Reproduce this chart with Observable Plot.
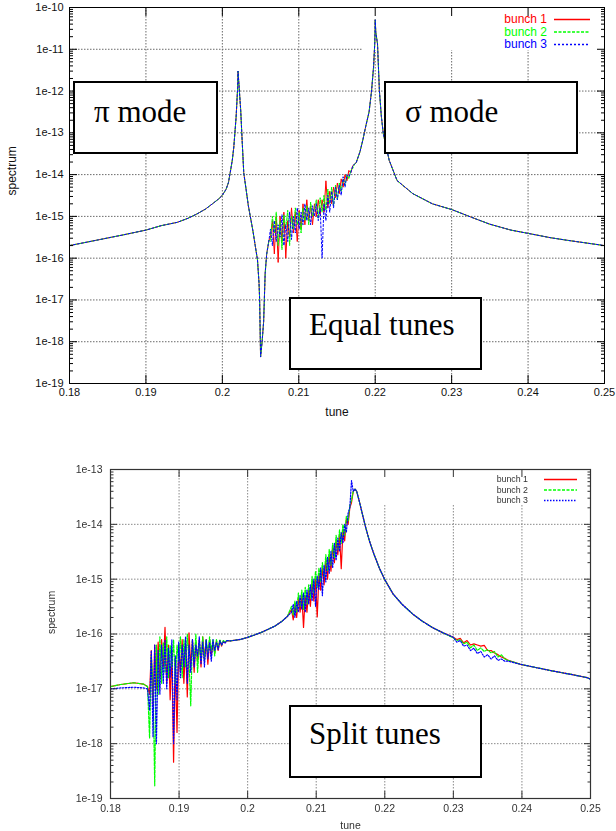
<!DOCTYPE html>
<html>
<head>
<meta charset="utf-8">
<script src="https://cdn.jsdelivr.net/npm/d3@7"></script>
<script src="https://cdn.jsdelivr.net/npm/@observablehq/plot@0.6"></script>
<style>
  html, body { margin: 0; padding: 0; background: #fff; }
  body { width: 616px; height: 831px; position: relative; overflow: hidden; font-family: "Liberation Sans", Arial, sans-serif; }
  #top, #bottom { position: absolute; left: 0; }
  #top { top: 0; }
  #bottom { top: 420px; }
  #bottom svg { filter: blur(0.45px); }
  .note { position: absolute; box-sizing: border-box; border: 2px solid #000; background: #fff;
          font-family: "Liberation Serif", "Times New Roman", serif; font-size: 31px; line-height: 1; color: #000; white-space: nowrap; }
  .note span { position: absolute; }
</style>
</head>
<body>
<div id="top"></div>
<div id="bottom"></div>
<div class="note" style="left:73px;top:81px;width:145px;height:73px"><span style="left:19px;top:13px">π mode</span></div>
<div class="note" style="left:384px;top:81px;width:194px;height:73px"><span style="left:19px;top:13px">σ mode</span></div>
<div class="note" style="left:289px;top:297px;width:193px;height:73px"><span style="left:18px;top:10px">Equal tunes</span></div>
<div class="note" style="left:289px;top:705px;width:193px;height:73px"><span style="left:18px;top:11px">Split tunes</span></div>
<script>
// ---------------- shared categories / ticks ----------------
const bunches = ["bunch 1", "bunch 2", "bunch 3"];
const bunchColors = ["#ff0000", "#00ff00", "#0000ff"];
const xTicks = [0.18, 0.19, 0.2, 0.21, 0.22, 0.23, 0.24, 0.25];
const xTickLabels = ["0.18", "0.19", "0.2", "0.21", "0.22", "0.23", "0.24", "0.25"];
const yTicksTop = [1e-19, 1e-18, 1e-17, 1e-16, 1e-15, 1e-14, 1e-13, 1e-12, 1e-11, 1e-10];
const yTickLabelsTop = ["1e-19", "1e-18", "1e-17", "1e-16", "1e-15", "1e-14", "1e-13", "1e-12", "1e-11", "1e-10"];
const yTicksBottom = [1e-19, 1e-18, 1e-17, 1e-16, 1e-15, 1e-14, 1e-13];
const yTickLabelsBottom = ["1e-19", "1e-18", "1e-17", "1e-16", "1e-15", "1e-14", "1e-13"];

// ---------------- top panel (equal tunes) ----------------
const topLeftTune = [0.180, 0.1838, 0.187, 0.190, 0.192, 0.1941, 0.1955, 0.1967, 0.1978, 0.1987, 0.1995, 0.2000, 0.2005, 0.2008, 0.2010, 0.2013, 0.2015, 0.2018, 0.2020, 0.20205, 0.2022, 0.2024, 0.2026, 0.2028, 0.2031, 0.2034, 0.2037, 0.2040, 0.2043, 0.2046, 0.2048, 0.20488, 0.2050, 0.2052, 0.2054, 0.2056, 0.2058, 0.2061];
const topLeftValue = [2.0e-16, 2.75e-16, 3.6e-16, 4.7e-16, 6.0e-16, 7.2e-16, 9.0e-16, 1.15e-15, 1.5e-15, 2.0e-15, 2.6e-15, 3.2e-15, 4.5e-15, 6.5e-15, 1.05e-14, 2.2e-14, 4.6e-14, 2.4e-13, 1.2e-12, 3.0e-12, 1.2e-12, 3.5e-13, 6.0e-14, 1.1e-14, 4.5e-15, 1.8e-15, 9.0e-16, 4.5e-16, 2.0e-16, 9.0e-17, 2.5e-17, 1.0e-17, 4.3e-19, 1.0e-18, 3.0e-18, 4.3e-17, 1.25e-16, 2.7e-16];
const topNoiseStart = 0.2063, topNoiseStep = 0.00025;
const topNoise1 = [3.2e-16, 7.9e-16, 1.26e-16, 1.0e-15, 7.9e-17, 1.0e-15, 2.5e-16, 1.26e-15, 1.0e-16, 7.9e-16, 3.2e-16, 1.6e-15, 4.0e-16, 1.26e-15, 2.5e-16, 1.4e-15, 5.0e-16, 2.0e-15, 6.3e-16, 2.5e-15, 7.9e-16, 1.8e-15, 6.3e-16, 2.0e-15, 1.0e-15, 2.5e-15, 1.1e-15, 2.5e-15, 1.26e-15, 7.1e-15, 1.6e-15, 4.0e-15, 2.0e-15, 5.0e-15, 2.8e-15, 6.3e-15, 3.5e-15, 7.9e-15, 5.0e-15, 1.0e-14, 7.1e-15, 1.26e-14, 1.1e-14, 1.6e-14, 1.8e-14];
const topNoise2 = [2.5e-16, 1.0e-15, 4.0e-16, 1.26e-15, 2.0e-16, 7.9e-16, 1.6e-16, 1.1e-15, 5.0e-16, 1.4e-15, 2.0e-16, 1.0e-15, 5.0e-16, 1.6e-15, 6.3e-16, 1.26e-15, 4.0e-16, 1.6e-15, 7.9e-16, 1.8e-15, 6.3e-16, 2.2e-15, 1.0e-15, 1.6e-15, 2.5e-15, 8.9e-16, 2.8e-15, 1.26e-15, 3.2e-15, 1.4e-15, 4.5e-15, 2.0e-15, 5.0e-15, 1.8e-15, 5.6e-15, 2.5e-15, 6.3e-15, 4.0e-15, 7.9e-15, 5.6e-15, 1.0e-14, 7.9e-15, 1.26e-14, 1.4e-14, 1.8e-14];
const topNoise3 = [5.0e-16, 2.0e-16, 7.9e-16, 2.5e-16, 6.3e-16, 3.2e-16, 1.1e-15, 2.0e-16, 6.3e-16, 2.5e-16, 1.26e-15, 2.8e-16, 1.0e-15, 4.0e-16, 1.6e-15, 5.0e-16, 1.26e-15, 6.3e-16, 2.0e-15, 7.9e-16, 1.6e-15, 6.3e-16, 1.8e-15, 1.0e-15, 2.0e-15, 7.9e-16, 1.6e-15, 1.0e-16, 2.0e-15, 7.9e-16, 3.2e-15, 1.26e-15, 4.0e-15, 1.6e-15, 5.0e-15, 2.5e-15, 5.6e-15, 3.2e-15, 8.9e-15, 5.0e-15, 1.0e-14, 8.9e-15, 1.1e-14, 1.6e-14, 1.8e-14];
const topRightTune = [0.2175, 0.2180, 0.2184, 0.21875, 0.2192, 0.21952, 0.21978, 0.21995, 0.2200, 0.22008, 0.2203, 0.22055, 0.2208, 0.22106, 0.22183, 0.22286, 0.22492, 0.22748, 0.23005, 0.23261, 0.2350, 0.23775, 0.24007, 0.24288, 0.2450, 0.2500];
const topRightValue = [1.9e-14, 3.5e-14, 7.0e-14, 1.4e-13, 3.2e-13, 1.0e-12, 3.7e-12, 1.5e-11, 5.1e-11, 2.5e-11, 1.35e-11, 1.0e-12, 2.5e-13, 9.5e-14, 2.2e-14, 7.2e-15, 3.5e-15, 2.0e-15, 1.45e-15, 9.5e-16, 6.5e-16, 4.7e-16, 3.9e-16, 3.1e-16, 2.7e-16, 2.0e-16];

// ---------------- bottom panel (split tunes) ----------------
const botHeadTune = [0.180, 0.1815, 0.1834, 0.1848, 0.1854];
const botHead12 = [1.1e-17, 1.2e-17, 1.29e-17, 1.22e-17, 1.1e-17];
const botHead3 = [1.0e-17, 1.04e-17, 1.07e-17, 1.04e-17, 1.0e-17];
const botNoiseAStart = 0.1857, botNoiseAStep = 0.00025;
const botNoiseA1 = [7.9e-18, 5.0e-17, 5.0e-18, 6.3e-17, 1.0e-17, 7.1e-17, 1.6e-17, 7.9e-17, 2.5e-17, 1.32e-16, 1.26e-17, 6.3e-17, 6.3e-18, 5.0e-17, 4.6e-19, 3.2e-17, 1.6e-18, 6.3e-17, 2.0e-17, 7.9e-17, 1.26e-17, 6.3e-17, 7.1e-18, 1.05e-16, 2.5e-17, 7.9e-17, 2.0e-17, 7.1e-17, 3.2e-17, 7.9e-17, 2.5e-17, 8.9e-17, 3.5e-17, 7.9e-17, 2.8e-17, 7.9e-17, 4.0e-17, 7.1e-17, 4.5e-17, 7.6e-17, 5.0e-17, 7.6e-17, 6.0e-17, 7.4e-17, 6.9e-17, 7.6e-17];
const botNoiseA2 = [1.26e-18, 4.0e-17, 1.26e-17, 1.7e-19, 6.3e-17, 7.9e-18, 8.9e-17, 1.26e-17, 7.1e-17, 2.0e-17, 8.9e-17, 1.6e-17, 6.3e-17, 2.5e-17, 7.9e-17, 1.26e-17, 6.3e-17, 3.2e-17, 8.9e-17, 1.6e-17, 7.9e-17, 2.5e-17, 1.0e-16, 3.2e-17, 4.9e-18, 7.9e-17, 3.2e-17, 1.0e-16, 2.0e-17, 7.1e-17, 3.5e-17, 8.9e-17, 3.2e-17, 7.9e-17, 4.5e-17, 8.9e-17, 5.0e-17, 7.9e-17, 4.0e-17, 7.9e-17, 5.6e-17, 7.9e-17, 6.3e-17, 7.6e-17, 7.1e-17, 7.6e-17];
const botNoiseA3 = [4.0e-18, 5.0e-17, 1.32e-18, 6.3e-17, 1.0e-18, 5.0e-17, 7.9e-18, 6.3e-17, 1.26e-17, 7.9e-17, 1.0e-17, 5.6e-17, 1.6e-17, 7.9e-17, 1.0e-18, 4.0e-17, 6.3e-18, 7.1e-17, 1.6e-17, 6.3e-17, 2.5e-17, 8.9e-17, 1.26e-17, 6.3e-17, 2.0e-17, 7.9e-17, 2.5e-17, 6.3e-17, 4.0e-17, 8.9e-17, 2.8e-17, 7.1e-17, 2.5e-17, 7.9e-17, 3.5e-17, 7.1e-17, 3.2e-17, 7.9e-17, 5.0e-17, 7.1e-17, 5.2e-17, 7.6e-17, 6.3e-17, 7.2e-17, 6.8e-17, 7.6e-17];
const botMidTune = [0.1975, 0.1990, 0.2000, 0.2010, 0.2020, 0.2030, 0.2040, 0.2050, 0.2058];
const botMidValue = [7.5e-17, 8.0e-17, 8.7e-17, 9.6e-17, 1.07e-16, 1.22e-16, 1.4e-16, 1.7e-16, 2.1e-16];
const botNoiseBStart = 0.2064, botNoiseBStep = 0.00025;
const botNoiseB1 = [2.8e-16, 1.8e-16, 3.5e-16, 2.0e-16, 4.5e-16, 2.5e-16, 5.0e-16, 1.32e-16, 5.0e-16, 2.5e-16, 6.3e-16, 3.2e-16, 8.9e-16, 4.0e-16, 1.0e-15, 2.04e-16, 1.26e-15, 6.3e-16, 1.6e-15, 7.9e-16, 2.2e-15, 1.0e-15, 2.8e-15, 1.4e-15, 4.0e-15, 2.0e-15, 5.0e-15, 2.8e-15, 6.3e-15, 1.55e-15, 7.9e-15, 5.0e-15, 1.26e-14, 1.0e-14, 2.0e-14, 2.5e-14, 4.0e-14];
const botNoiseB2 = [3.2e-16, 2.2e-16, 4.0e-16, 2.5e-16, 5.6e-16, 3.2e-16, 6.3e-16, 2.8e-16, 7.1e-16, 3.5e-16, 7.9e-16, 4.5e-16, 1.12e-15, 5.6e-16, 1.4e-15, 7.1e-16, 1.6e-15, 8.9e-16, 2.0e-15, 1.12e-15, 2.8e-15, 1.4e-15, 3.5e-15, 1.8e-15, 4.5e-15, 2.5e-15, 6.3e-15, 3.5e-15, 7.9e-15, 4.5e-15, 1.0e-14, 6.3e-15, 1.4e-14, 1.12e-14, 2.2e-14, 2.8e-14, 4.0e-14];
const botNoiseB3 = [2.5e-16, 3.5e-16, 2.0e-16, 4.0e-16, 2.5e-16, 5.0e-16, 2.8e-16, 5.6e-16, 2.5e-16, 6.3e-16, 3.5e-16, 7.9e-16, 4.0e-16, 1.0e-15, 3.2e-16, 1.12e-15, 6.3e-16, 1.6e-15, 5.0e-16, 1.8e-15, 8.9e-16, 2.5e-15, 1.26e-15, 3.2e-15, 1.6e-15, 4.5e-15, 2.2e-15, 5.6e-15, 3.2e-15, 7.1e-15, 4.5e-15, 1.0e-14, 7.1e-15, 1.6e-14, 2.0e-14, 6.3e-14, 4.0e-14];
const botPeakTune = [0.21565, 0.2159, 0.2163, 0.2167, 0.2172, 0.2178, 0.2184, 0.2192, 0.2200, 0.2212, 0.2225, 0.2241, 0.2255, 0.2270, 0.2285];
const botPeakValue = [4.4e-14, 4.0e-14, 2.6e-14, 1.6e-14, 8.9e-15, 4.8e-15, 2.9e-15, 1.6e-15, 9.8e-16, 5.4e-16, 3.5e-16, 2.3e-16, 1.7e-16, 1.3e-16, 1.05e-16];
const botNoiseCStart = 0.2300, botNoiseCStep = 0.0005;
const botNoiseC1 = [8.7e-17, 7.9e-17, 8.3e-17, 6.9e-17, 7.6e-17, 6.3e-17, 6.6e-17, 6.3e-17, 6.0e-17, 6.2e-17, 5.0e-17, 5.0e-17, 4.5e-17, 4.2e-17, 3.8e-17, 3.6e-17, 3.3e-17];
const botNoiseC2 = [8.5e-17, 7.6e-17, 7.9e-17, 6.6e-17, 7.1e-17, 5.6e-17, 6.3e-17, 5.0e-17, 5.6e-17, 4.8e-17, 5.2e-17, 4.5e-17, 4.8e-17, 3.8e-17, 4.2e-17, 3.5e-17, 3.3e-17];
const botNoiseC3 = [8.7e-17, 7.1e-17, 7.6e-17, 6.0e-17, 6.3e-17, 5.0e-17, 5.5e-17, 4.4e-17, 4.8e-17, 3.8e-17, 4.2e-17, 3.5e-17, 4.0e-17, 3.3e-17, 3.5e-17, 3.2e-17, 3.2e-17];
const botTailTune = [0.2398, 0.2420, 0.2446, 0.2470, 0.2495, 0.2500];
const botTailValue = [2.8e-17, 2.45e-17, 2.1e-17, 1.85e-17, 1.6e-17, 1.5e-17];

// ---------------- build rows ----------------
function pairs(tunes, values) { return tunes.map((t, i) => ({tune: t, value: values[i]})); }
function sampled(start, step, values) { return values.map((v, i) => ({tune: start + i * step, value: v})); }

const topSeries = [topNoise1, topNoise2, topNoise3].map(noise => [
  ...pairs(topLeftTune, topLeftValue),
  ...sampled(topNoiseStart, topNoiseStep, noise),
  ...pairs(topRightTune, topRightValue)
]);
const botA = [botNoiseA1, botNoiseA2, botNoiseA3];
const botB = [botNoiseB1, botNoiseB2, botNoiseB3];
const botC = [botNoiseC1, botNoiseC2, botNoiseC3];
const botHeads = [botHead12, botHead12, botHead3];
const bottomSeries = [0, 1, 2].map(k => [
  ...pairs(botHeadTune, botHeads[k]),
  ...sampled(botNoiseAStart, botNoiseAStep, botA[k]),
  ...pairs(botMidTune, botMidValue),
  ...sampled(botNoiseBStart, botNoiseBStep, botB[k]),
  ...pairs(botPeakTune, botPeakValue),
  ...sampled(botNoiseCStart, botNoiseCStep, botC[k]),
  ...pairs(botTailTune, botTailValue)
]);

// ---------------- helpers ----------------
function minorTicks(majors) {
  const out = [];
  for (let i = 0; i < majors.length - 1; i++) for (let m = 2; m <= 9; m++) out.push(m * majors[i]);
  return out;
}
const xLabel = new Map(xTicks.map((v, i) => [v, xTickLabels[i]]));

function keyMask(w, h) {
  return (index, scales, values, dims) => d3.create("svg:rect")
    .attr("x", dims.width - dims.marginRight - w).attr("y", dims.marginTop)
    .attr("width", w).attr("height", h).attr("fill", "#fff").node();
}
function legendMark(c) {
  return (index, scales, values, dims) => {
    const r = dims.width - dims.marginRight, t = dims.marginTop;
    const g = d3.create("svg:g");
    bunches.forEach((b, i) => {
      const y = t + c.y0 + i * c.gap;
      g.append("text").attr("x", r - c.textRight).attr("y", y).attr("dy", "0.35em")
        .attr("text-anchor", "end").attr("font-size", c.fontSize)
        .style("fill", c.coloredText ? bunchColors[i] : c.textFill).text(b);
      g.append("line").attr("x1", r - c.lineFrom).attr("x2", r - c.lineTo)
        .attr("y1", y + 0.5).attr("y2", y + 0.5)
        .style("stroke", bunchColors[i]).style("stroke-width", c.lw)
        .style("stroke-dasharray", c.dashes[i] || "none");
    });
    return g.node();
  };
}

function panel(c) {
  const yLabel = new Map(c.yTicks.map((v, i) => [v, c.yLabels[i]]));
  const minor = minorTicks(c.yTicks);
  return Plot.plot({
    width: 616, height: c.height,
    marginLeft: c.ml, marginRight: c.mr, marginTop: c.mt, marginBottom: c.mb,
    x: {domain: [0.18, 0.25]},
    y: {type: "log", domain: [c.yTicks[0], c.yTicks[c.yTicks.length - 1]]},
    style: {fontFamily: "'Liberation Sans', Arial, sans-serif", fontSize: c.tickFont + "px", color: c.textColor, background: "transparent"},
    marks: [
      Plot.gridX(xTicks, {stroke: c.grid, strokeOpacity: 1, strokeDasharray: "1.5,1.5"}),
      Plot.gridY(c.yTicks, {stroke: c.grid, strokeOpacity: 1, strokeDasharray: "1.5,1.5"}),
      keyMask(c.maskW, c.maskH),
      ...c.series.map((rows, k) => Plot.line(rows, {
        x: "tune", y: "value", stroke: bunchColors[k], strokeWidth: c.lw,
        strokeDasharray: c.dashes[k] || null, clip: true
      })),
      Plot.frame({stroke: c.frame, strokeWidth: c.frameW}),
      Plot.axisX(xTicks, {anchor: "bottom", tickSize: -c.major, fill: "none", stroke: c.frame, label: null}),
      Plot.axisX(xTicks, {anchor: "top", tickSize: -c.major, fill: "none", stroke: c.frame, label: null}),
      Plot.axisY(c.yTicks, {anchor: "left", tickSize: -c.major, fill: "none", stroke: c.frame, label: null}),
      Plot.axisY(c.yTicks, {anchor: "right", tickSize: -c.major, fill: "none", stroke: c.frame, label: null}),
      Plot.axisY(minor, {anchor: "left", tickSize: -c.minor, fill: "none", stroke: c.frame, label: null}),
      Plot.axisY(minor, {anchor: "right", tickSize: -c.minor, fill: "none", stroke: c.frame, label: null}),
      Plot.axisX(xTicks, {anchor: "bottom", tickSize: 0, tickPadding: c.xPad, tickFormat: d => xLabel.get(d), label: null, fill: c.textColor}),
      Plot.axisY(c.yTicks, {anchor: "left", tickSize: 0, tickPadding: c.yPad, tickFormat: d => yLabel.get(d), label: null, fill: c.textColor}),
      Plot.text(["tune"], {text: d => d, frameAnchor: "bottom", dy: c.tuneDy, lineAnchor: "middle", fontSize: c.titleFont, fill: c.textColor}),
      Plot.text(["spectrum"], {text: d => d, frameAnchor: "left", dx: c.specDx, rotate: -90, fontSize: c.titleFont, fill: c.textColor}),
      legendMark(c.legend)
    ]
  });
}

document.getElementById("top").append(panel({
  height: 420, ml: 69, mr: 12, mt: 7, mb: 37,
  yTicks: yTicksTop, yLabels: yTickLabelsTop, series: topSeries,
  lw: 1, dashes: [null, "3,1.5", "2,2"], grid: "#6a6a6a", frame: "#000", frameW: 1,
  major: 8, minor: 4, tickFont: 11, titleFont: 12, textColor: "#111",
  xPad: 5, yPad: 6, tuneDy: 29, specDx: -57,
  maskW: 241, maskH: 43,
  legend: {y0: 12, gap: 12.5, textRight: 57, lineFrom: 50, lineTo: 14, fontSize: 12, coloredText: true, lw: 1.3, dashes: [null, "3,1.5", "2,2"]}
}));

document.getElementById("bottom").append(panel({
  height: 411, ml: 110, mr: 26, mt: 49, mb: 33,
  yTicks: yTicksBottom, yLabels: yTickLabelsBottom, series: bottomSeries,
  lw: 1.2, dashes: [null, "3,1.5", "1.5,1.5"], grid: "#8a8a8a", frame: "#333", frameW: 1.2,
  major: 7, minor: 3.5, tickFont: 10.5, titleFont: 10.5, textColor: "#333",
  xPad: 6, yPad: 8, tuneDy: 27, specDx: -59,
  maskW: 250, maskH: 36,
  legend: {y0: 10, gap: 10.5, textRight: 62, lineFrom: 46, lineTo: 13, fontSize: 8.8, coloredText: false, textFill: "#333", lw: 1.3, dashes: [null, "3,1.5", "1.5,1.5"]}
}));
</script>
</body>
</html>
